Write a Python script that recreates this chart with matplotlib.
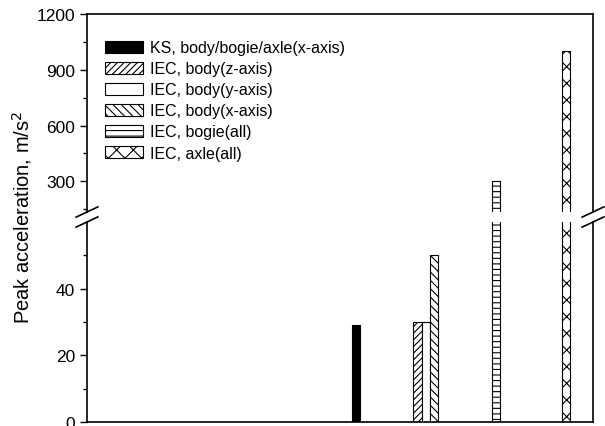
import numpy as np
import matplotlib
matplotlib.use('Agg')
import matplotlib.pyplot as plt
from matplotlib.ticker import MultipleLocator, FixedLocator

plt.rcParams['font.family'] = ['Liberation Sans', 'DejaVu Sans']
plt.rcParams['hatch.linewidth'] = 0.8

# series: (label, group index, offset inside group, value, fill, hatch)
labels = ['KS, body/bogie/axle(x-axis)', 'IEC, body(z-axis)', 'IEC, body(y-axis)',
          'IEC, body(x-axis)', 'IEC, bogie(all)', 'IEC, axle(all)']
groups = [0, 1, 1, 1, 2, 3]
offsets = [0.0, -0.12, 0.0, 0.12, 0.0, 0.0]
values = [29, 30, 30, 50, 300, 1000]
fills = ['black', 'white', 'white', 'white', 'white', 'white']
hatches = [None, '/////', None, '\\\\\\\\', '---', 'xx']

width = 0.12

fig = plt.figure(figsize=(6.05, 4.27), dpi=100)
L, R = 87 / 605, 593 / 605
ax_top = fig.add_axes([L, 1 - 213 / 427, R - L, 198 / 427])
ax_bot = fig.add_axes([L, 1 - 423 / 427, R - L, 200 / 427])

for ax in (ax_top, ax_bot):
    for lab, g, off, v, fc, h in zip(labels, groups, offsets, values, fills, hatches):
        ax.bar(g + off, v, width=width, color=fc, edgecolor='black',
               hatch=h, linewidth=0.8, label=lab)
    ax.set_xlim(-3.84, 3.39)
    ax.set_xticks([])
    ax.tick_params(axis='y', direction='out', labelsize=12.5, length=5, width=1,
                   right=False)
    ax.tick_params(axis='y', which='minor', direction='out', length=3, width=1)
    for s in ax.spines.values():
        s.set_linewidth(1.2)

ax_top.set_ylim(135, 1200)
ax_top.yaxis.set_major_locator(MultipleLocator(300))
ax_top.yaxis.set_minor_locator(MultipleLocator(150))
ax_top.spines['bottom'].set_visible(False)

ax_bot.set_ylim(0, 60)
ax_bot.yaxis.set_major_locator(FixedLocator([0, 20, 40]))
ax_bot.yaxis.set_minor_locator(FixedLocator([10, 30, 50]))
ax_bot.spines['top'].set_visible(False)

# break marks on both spines
for xf in (L, R):
    for yp in (213, 223):
        y = 1 - yp / 427
        fig.add_artist(plt.Line2D([xf - 0.018, xf + 0.018], [y - 0.012, y + 0.012],
                                  color='black', linewidth=1.2))

leg = ax_top.legend(loc='upper left', bbox_to_anchor=(0.023, 0.9), frameon=False,
                    fontsize=11.5, handlelength=2.4, handleheight=0.8,
                    labelspacing=0.38, handletextpad=0.4, borderaxespad=0)

fig.text(22 / 605, 0.49, 'Peak acceleration, m/s$^2$', rotation=90,
         va='center', ha='center', fontsize=14.5)

fig.savefig('out.png', dpi=100)
